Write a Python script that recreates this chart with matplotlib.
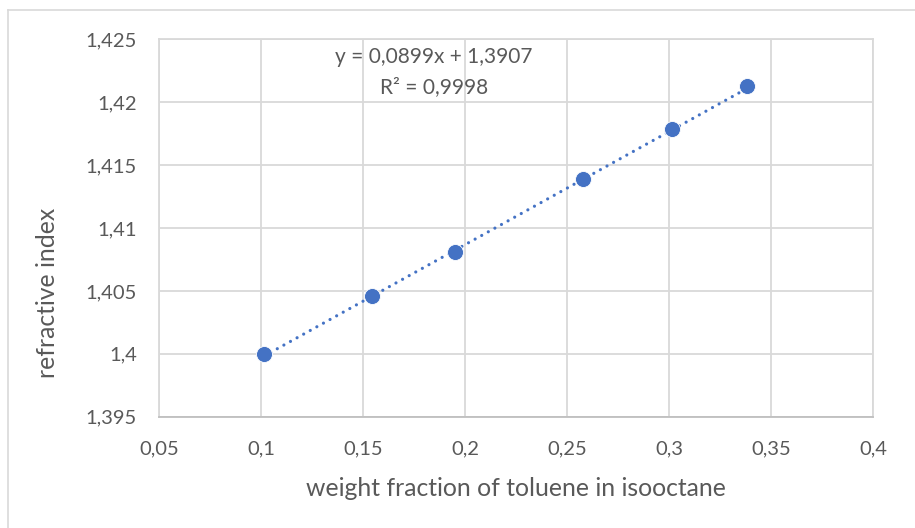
import numpy as np
import matplotlib.pyplot as plt
from matplotlib.lines import Line2D
from matplotlib.ticker import FuncFormatter

# measured samples: weight fraction of toluene vs refractive index
weight_fraction = [0.1015, 0.1546, 0.1951, 0.2577, 0.3015, 0.3384]
refractive_index = [1.4000, 1.4046, 1.4081, 1.4139, 1.4179, 1.4213]

# linear trendline as reported on the chart
slope = 0.0899
intercept = 1.3907
r_squared = 0.9998

x_ticks = [0.05, 0.1, 0.15, 0.2, 0.25, 0.3, 0.35, 0.4]
y_ticks = [1.395, 1.4, 1.405, 1.41, 1.415, 1.42, 1.425]

blue = "#4472C4"
grid_grey = "#D9D9D9"
text_grey = "#595959"

plt.rcParams["font.family"] = ["Lato", "DejaVu Sans"]

fig = plt.figure(figsize=(9.15, 5.28), dpi=100)
ax = fig.add_axes([0.1738, 0.2108, 0.7803, 0.7144])

# dotted trendline between first and last sample
xs = np.array([weight_fraction[0], weight_fraction[-1]])
ax.plot(xs, slope * xs + intercept, color=blue, lw=2.3,
        linestyle=(0, (0.01, 2.35)), dash_capstyle="round", zorder=3)
ax.plot(weight_fraction, refractive_index, "o", color=blue, ms=11.5,
        mec="white", mew=0.6, zorder=4)

ax.set_xlim(0.05, 0.4)
ax.set_ylim(1.395, 1.425)
ax.set_xticks(x_ticks)
ax.set_yticks(y_ticks)

def comma(v, pos):
    return f"{v:g}".replace(".", ",")

ax.xaxis.set_major_formatter(FuncFormatter(comma))
ax.yaxis.set_major_formatter(FuncFormatter(comma))

ax.grid(True, color=grid_grey, lw=1.3)
ax.set_axisbelow(True)
for s in ax.spines.values():
    s.set_color(grid_grey)
    s.set_linewidth(1.3)
ax.spines["bottom"].set_color("#BFBFBF")
ax.tick_params(length=0, labelsize=14.5, colors=text_grey)
ax.tick_params(axis="x", pad=17)
ax.tick_params(axis="y", pad=16)

ax.text(0.1848, 1.4236, f"y = {slope:g}x + {intercept:g}".replace(".", ","),
        ha="center", va="center", fontsize=15, color=text_grey)
ax.text(0.1848, 1.4212, f"R² = {r_squared:g}".replace(".", ","),
        ha="center", va="center", fontsize=15, color=text_grey)

fig.text(516 / 915, 1 - 488 / 528, "weight fraction of toluene in isooctane",
         ha="center", va="center", fontsize=17.8, color=text_grey)
fig.text(48 / 915, 1 - 293 / 528, "refractive index", rotation=90,
         ha="center", va="center", fontsize=17.8, color=text_grey)

# chart frame (left and top edges)
fig.add_artist(Line2D([8 / 915, 8 / 915], [0, 1 - 10 / 528],
                      transform=fig.transFigure, color=grid_grey, lw=1.2))
fig.add_artist(Line2D([8 / 915, 1], [1 - 10 / 528, 1 - 10 / 528],
                      transform=fig.transFigure, color=grid_grey, lw=1.2))

fig.savefig("out.png", dpi=100)
